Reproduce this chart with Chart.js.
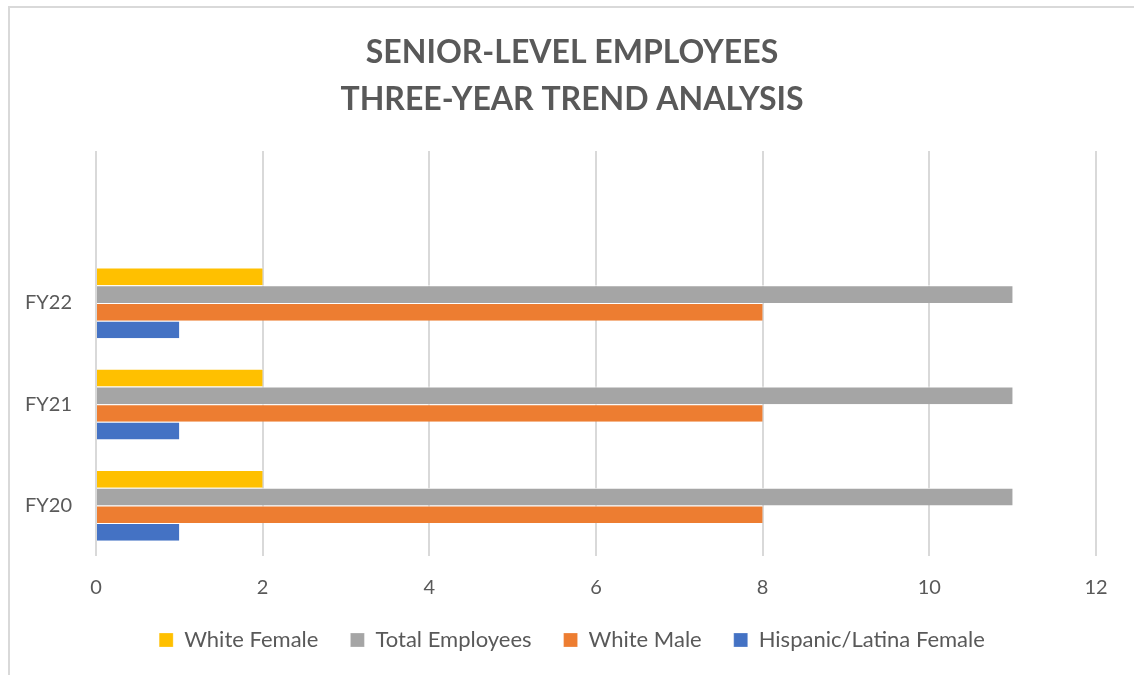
<!DOCTYPE html>
<html>
<head>
<meta charset="utf-8">
<script src="https://cdn.jsdelivr.net/npm/chart.js@4"></script>
<style>
    html, body { margin: 0; padding: 0; background: #ffffff; }
    #frame {
        position: absolute; left: 8px; top: 6px; width: 1200px; height: 720px;
        border-left: 2px solid #d9d9d9; border-top: 2px solid #d9d9d9;
    }
    #wrap { position: absolute; left: 0; top: 0; width: 1134px; height: 675px; }
</style>
</head>
<body>
<div id="frame"></div>
<div id="wrap"><canvas id="grafico"></canvas></div>
<script>
// Categorias (a primeira linha fica vazia, como na planilha original)
const anos = ['', 'FY22', 'FY21', 'FY20'];
const brancaFeminino = [null, 2, 2, 2];
const totalFuncionarios = [null, 11, 11, 11];
const brancoMasculino = [null, 8, 8, 8];
const hispanicaFeminino = [null, 1, 1, 1];
const ticksX = [0, 2, 4, 6, 8, 10, 12];

const corTexto = '#595959';
const fonte = 'Lato, "Open Sans", sans-serif';

// Centraliza título e legenda na largura toda do quadro (não só até a área do gráfico)
const centralizarCaixas = {
    id: 'centralizarCaixas',
    afterLayout(chart) {
        const desloc = 24;
        [chart.titleBlock, chart.legend].forEach(caixa => {
            if (!caixa) return;
            caixa.left += desloc;
            caixa.right += desloc;
        });
    }
};

const ctx = document.getElementById('grafico').getContext('2d');
new Chart(ctx, {
    type: 'bar',
    data: {
        labels: anos,
        datasets: [
            { label: 'White Female', data: brancaFeminino, backgroundColor: '#FFC000' },
            { label: 'Total Employees', data: totalFuncionarios, backgroundColor: '#A5A5A5' },
            { label: 'White Male', data: brancoMasculino, backgroundColor: '#ED7D31' },
            { label: 'Hispanic/Latina Female', data: hispanicaFeminino, backgroundColor: '#4472C4' }
        ]
    },
    options: {
        indexAxis: 'y',
        responsive: true,
        maintainAspectRatio: false,
        animation: false,
        datasets: {
            bar: {
                categoryPercentage: 0.7,
                barPercentage: 1,
                borderColor: '#ffffff',
                borderWidth: { top: 1, bottom: 0, left: 0, right: 0 }
            }
        },
        layout: { padding: { left: 0, right: 38, top: 29, bottom: 14 } },
        plugins: {
            title: {
                display: true,
                text: ['SENIOR-LEVEL EMPLOYEES', 'THREE-YEAR TREND ANALYSIS'],
                color: corTexto,
                font: { family: fonte, size: 32, weight: 'bold', lineHeight: 1.47 },
                padding: { top: 0, bottom: 28 }
            },
            legend: {
                position: 'bottom',
                labels: {
                    color: corTexto,
                    font: { family: fonte, size: 22 },
                    boxWidth: 14,
                    boxHeight: 14,
                    padding: 32
                }
            },
            tooltip: { enabled: false }
        },
        scales: {
            x: {
                min: 0,
                max: 12,
                afterBuildTicks: (escala) => { escala.ticks = ticksX.map(v => ({ value: v })); },
                afterFit: (escala) => { escala.height = 41; },
                ticks: { color: corTexto, font: { family: fonte, size: 20 }, padding: 20 },
                grid: { color: '#d9d9d9', lineWidth: 2, drawTicks: false },
                border: { display: false }
            },
            y: {
                afterFit: (escala) => { escala.width = 96; },
                ticks: { color: corTexto, font: { family: fonte, size: 20 }, padding: 16 },
                grid: { display: false },
                border: { display: false }
            }
        }
    },
    plugins: [centralizarCaixas]
});
</script>
</body>
</html>
